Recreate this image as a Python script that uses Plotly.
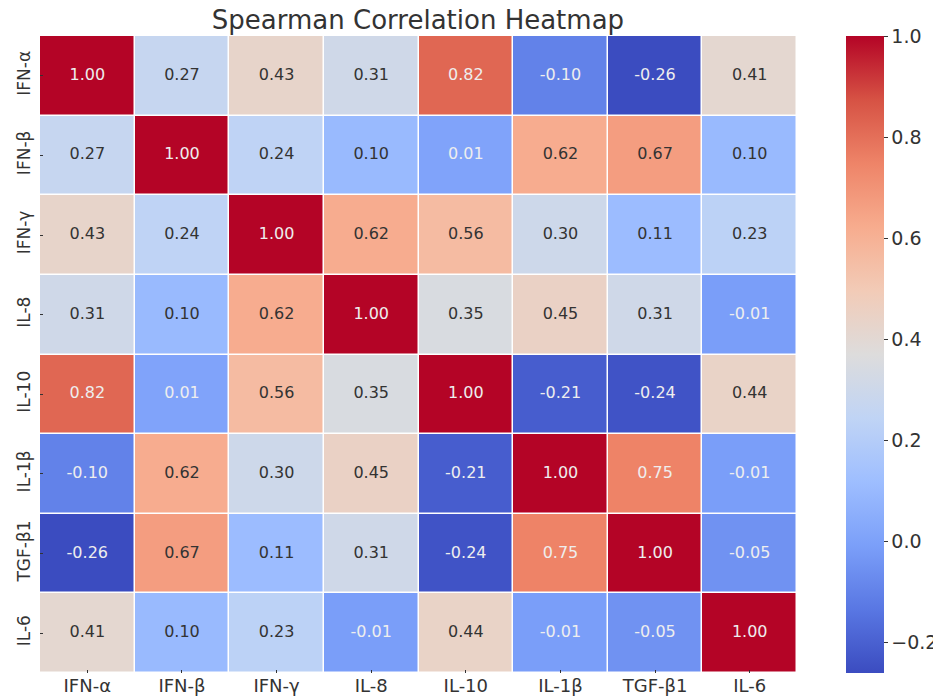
import numpy as np
import plotly.graph_objects as go

labels = ["IFN-α", "IFN-β", "IFN-γ", "IL-8", "IL-10", "IL-1β", "TGF-β1", "IL-6"]

row_ifn_a = [1.00, 0.27, 0.43, 0.31, 0.82, -0.10, -0.26, 0.41]
row_ifn_b = [0.27, 1.00, 0.24, 0.10, 0.01, 0.62, 0.67, 0.10]
row_ifn_g = [0.43, 0.24, 1.00, 0.62, 0.56, 0.30, 0.11, 0.23]
row_il8 = [0.31, 0.10, 0.62, 1.00, 0.35, 0.45, 0.31, -0.01]
row_il10 = [0.82, 0.01, 0.56, 0.35, 1.00, -0.21, -0.24, 0.44]
row_il1b = [-0.10, 0.62, 0.30, 0.45, -0.21, 1.00, 0.75, -0.01]
row_tgfb1 = [-0.26, 0.67, 0.11, 0.31, -0.24, 0.75, 1.00, -0.05]
row_il6 = [0.41, 0.10, 0.23, -0.01, 0.44, -0.01, -0.05, 1.00]

z = np.array([row_ifn_a, row_ifn_b, row_ifn_g, row_il8,
              row_il10, row_il1b, row_tgfb1, row_il6])

# matplotlib "coolwarm"
cw_hex = ["#3b4cc0", "#5977e3", "#7b9ff9", "#9ebeff", "#c0d4f5", "#dddcdc",
          "#f2cbb7", "#f7ac8e", "#ee8468", "#d65244", "#b40426"]
cw_pos = np.linspace(0, 1, len(cw_hex))
colorscale = [[float(p), c] for p, c in zip(cw_pos, cw_hex)]
cw_rgb = np.array([[int(c[i:i + 2], 16) / 255 for i in (1, 3, 5)] for c in cw_hex])

zmin, zmax = float(z.min()), float(z.max())


def text_color(v):
    t = (v - zmin) / (zmax - zmin)
    rgb = np.array([np.interp(t, cw_pos, cw_rgb[:, k]) for k in range(3)])
    lin = np.where(rgb <= 0.03928, rgb / 12.92, ((rgb + 0.055) / 1.055) ** 2.4)
    lum = 0.2126 * lin[0] + 0.7152 * lin[1] + 0.0722 * lin[2]
    return "#eeeeee" if lum < 0.408 else "#333333"


xs, ys, txt, cols = [], [], [], []
for i, rl in enumerate(labels):
    for j, cl in enumerate(labels):
        xs.append(cl)
        ys.append(rl)
        txt.append(f"{z[i, j]:.2f}")
        cols.append(text_color(z[i, j]))

fig = go.Figure()
fig.add_trace(go.Heatmap(
    z=z, x=labels, y=labels, colorscale=colorscale, zmin=zmin, zmax=zmax,
    xgap=1.5, ygap=1.5, hoverinfo="skip",
    colorbar=dict(
        x=1.0647, xanchor="left", xref="paper", y=0.5, yanchor="middle",
        len=1.0, lenmode="fraction", thickness=38, thicknessmode="pixels",
        outlinewidth=0, tickmode="array",
        tickvals=[-0.2, 0.0, 0.2, 0.4, 0.6, 0.8, 1.0],
        ticktext=["−0.2", "0.0", "0.2", "0.4", "0.6", "0.8", "1.0"],
        ticks="outside", ticklen=4, tickcolor="#333333",
        tickfont=dict(family="DejaVu Sans", size=19, color="#333333"),
        xpad=0, ypad=0,
    ),
))
fig.add_trace(go.Scatter(
    x=xs, y=ys, mode="text", text=txt,
    textfont=dict(family="DejaVu Sans", size=16, color=cols),
    hoverinfo="skip", showlegend=False,
))

fig.update_layout(
    width=933, height=691,
    margin=dict(l=32, r=144, t=28, b=26, autoexpand=False),
    plot_bgcolor="white", paper_bgcolor="white",
    title=dict(text="Spearman Correlation Heatmap", x=0.4394, xanchor="center",
               y=0.9826, yanchor="middle",
               font=dict(family="DejaVu Sans", size=26, color="#333333")),
    xaxis=dict(showgrid=False, zeroline=False, ticks="inside", ticklen=3,
               tickcolor="#333333", showline=False,
               tickfont=dict(family="DejaVu Sans", size=18, color="#333333")),
    yaxis=dict(showgrid=False, zeroline=False, ticks="inside", ticklen=3,
               tickcolor="#333333", autorange="reversed", tickangle=-90,
               showline=False, ticklabelstandoff=6,
               tickfont=dict(family="DejaVu Sans", size=17, color="#333333")),
    showlegend=False,
)

fig.write_html("out.html")
